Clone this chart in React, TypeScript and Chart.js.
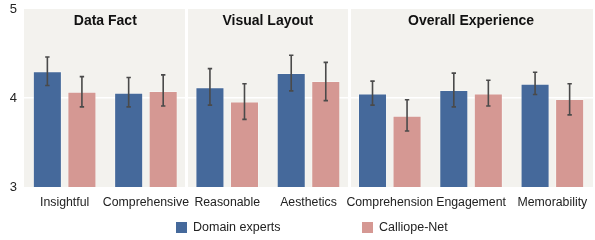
import React, { useEffect, useRef } from "react";
import { Chart, registerables } from "chart.js";

Chart.register(...registerables);

const categories = ["Insightful", "Comprehensive", "Reasonable", "Aesthetics", "Comprehension", "Engagement", "Memorability"];
const panelTitles = ["Data Fact", "Visual Layout", "Overall Experience"];
const panelStarts = [0, 2, 4];
const panelEnds = [2, 4, 7];
const seriesNames = ["Domain experts", "Calliope-Net"];
const expertValues = [4.30, 4.06, 4.12, 4.28, 4.05, 4.09, 4.16];
const expertLow = [4.14, 3.90, 3.92, 4.08, 3.92, 3.90, 4.04];
const expertHigh = [4.46, 4.23, 4.33, 4.48, 4.19, 4.28, 4.29];
const netValues = [4.07, 4.08, 3.96, 4.19, 3.80, 4.05, 3.99];
const netLow = [3.90, 3.91, 3.76, 3.97, 3.63, 3.91, 3.81];
const netHigh = [4.24, 4.26, 4.16, 4.40, 3.98, 4.20, 4.16];
const yTicks = [3, 4, 5];

const BLUE = "#45699B";
const PINK = "#D59893";
const BG = "#F3F2EE";
const FONT = "'Liberation Sans', Arial, Helvetica, sans-serif";

const bgPlugin = {
  id: "panelBg",
  beforeDraw(chart: any) {
    const { ctx, chartArea } = chart;
    ctx.save();
    ctx.fillStyle = BG;
    ctx.fillRect(chartArea.left, chartArea.top, chartArea.right - chartArea.left, chartArea.bottom - chartArea.top);
    ctx.restore();
  },
};

const errorBarPlugin = {
  id: "errorBars",
  afterDatasetsDraw(chart: any) {
    const { ctx } = chart;
    const y = chart.scales.y;
    const lows = [expertLow, netLow];
    const highs = [expertHigh, netHigh];
    ctx.save();
    ctx.strokeStyle = "#4a4a4a";
    ctx.lineWidth = 1.6;
    chart.data.datasets.forEach((_: any, di: number) => {
      const meta = chart.getDatasetMeta(di);
      meta.data.forEach((bar: any, i: number) => {
        const x = bar.x;
        const yl = y.getPixelForValue(lows[di][i]);
        const yh = y.getPixelForValue(highs[di][i]);
        ctx.beginPath();
        ctx.moveTo(x, yl);
        ctx.lineTo(x, yh);
        ctx.moveTo(x - 2.2, yl);
        ctx.lineTo(x + 2.2, yl);
        ctx.moveTo(x - 2.2, yh);
        ctx.lineTo(x + 2.2, yh);
        ctx.stroke();
      });
    });
    ctx.restore();
  },
};

const titlePlugin = {
  id: "panelTitles",
  afterDatasetsDraw(chart: any) {
    const { ctx, chartArea } = chart;
    const x = chart.scales.x;
    const half = (x.getPixelForValue(1) - x.getPixelForValue(0)) / 2;
    ctx.save();
    ctx.fillStyle = "#111111";
    ctx.font = `bold 14px ${FONT}`;
    ctx.textAlign = "center";
    ctx.textBaseline = "middle";
    panelTitles.forEach((t, p) => {
      const l = x.getPixelForValue(panelStarts[p]) - half;
      const r = x.getPixelForValue(panelEnds[p] - 1) + half;
      ctx.fillText(t, (l + r) / 2, chartArea.top + 12);
    });
    ctx.restore();
  },
};

export default function App() {
  const ref = useRef<HTMLCanvasElement>(null);
  useEffect(() => {
    if (!ref.current) return;
    const chart = new Chart(ref.current, {
      type: "bar",
      data: {
        labels: categories,
        datasets: [
          { label: seriesNames[0], data: expertValues, backgroundColor: BLUE, borderColor: "rgba(255,255,255,0.3)", borderWidth: 1 },
          { label: seriesNames[1], data: netValues, backgroundColor: PINK, borderColor: "rgba(255,255,255,0.3)", borderWidth: 1 },
        ],
      },
      options: {
        animation: false,
        responsive: false,
        maintainAspectRatio: false,
        layout: { padding: { top: 9, right: 2, bottom: 31, left: 0 } },
        datasets: { bar: { categoryPercentage: 0.85, barPercentage: 0.84 } },
        plugins: { legend: { display: false }, tooltip: { enabled: false }, title: { display: false } },
        scales: {
          x: {
            grid: {
              offset: true,
              drawTicks: false,
              color: (c: any) => (panelStarts.includes(c.index) && c.index > 0 ? "#ffffff" : "rgba(0,0,0,0)"),
              lineWidth: 3,
            },
            border: { display: false },
            ticks: { color: "#222", font: { family: FONT, size: 12.3 }, padding: 8, maxRotation: 0, autoSkip: false },
            afterFit: (s: any) => { s.height = 22; s.paddingLeft = 0; s.paddingRight = 0; },
          },
          y: {
            min: 3,
            max: 5,
            afterBuildTicks: (s: any) => { s.ticks = yTicks.map((v) => ({ value: v })); },
            grid: { color: (c: any) => (c.tick && c.tick.value === 4 ? "#ffffff" : "rgba(0,0,0,0)"), lineWidth: 1.5, drawTicks: false },
            border: { display: false },
            ticks: { color: "#222", font: { family: FONT, size: 13 }, padding: 7 },
            afterFit: (s: any) => { s.width = 24; s.paddingTop = 0; s.paddingBottom = 0; },
          },
        },
      },
      plugins: [bgPlugin, errorBarPlugin, titlePlugin],
    });
    return () => chart.destroy();
  }, []);

  const legendItem = (color: string, label: string, left: number) => (
    <div style={{ position: "absolute", left, top: 220, display: "flex", alignItems: "center", font: `12.5px ${FONT}`, color: "#222" }}>
      <span style={{ display: "inline-block", width: 11, height: 11, background: color, marginRight: 6 }} />
      <span>{label}</span>
    </div>
  );

  return (
    <div style={{ position: "fixed", left: 0, top: 0, width: 595, height: 240, background: "#fff" }}>
      <canvas ref={ref} width={595} height={240} style={{ display: "block", width: 595, height: 240 }} />
      {legendItem(BLUE, seriesNames[0], 176)}
      {legendItem(PINK, seriesNames[1], 362)}
    </div>
  );
}
